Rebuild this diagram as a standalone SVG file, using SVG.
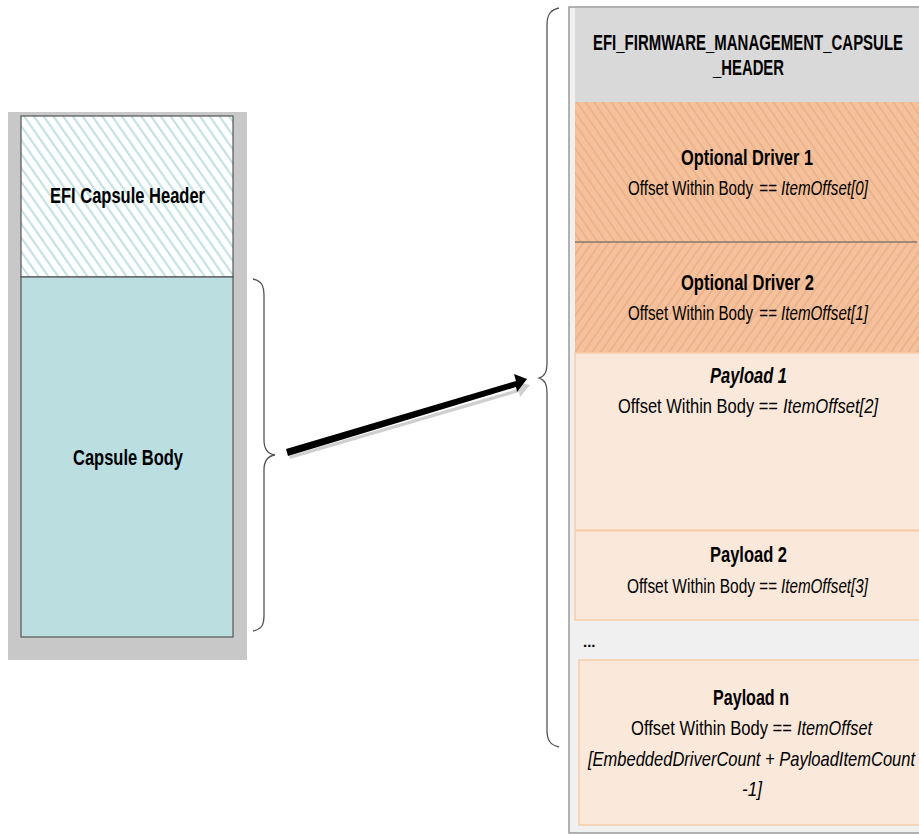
<svg xmlns="http://www.w3.org/2000/svg" width="919" height="834" viewBox="0 0 919 834">
<defs>
<pattern id="hatchTeal" patternUnits="userSpaceOnUse" width="8" height="8" patternTransform="rotate(-35)">
<rect width="8" height="8" fill="#ffffff"/>
<rect x="0" y="0" width="2.2" height="8" fill="#c4e2e5"/>
</pattern>
<pattern id="hatchOr1" patternUnits="userSpaceOnUse" width="7" height="7" patternTransform="rotate(-35)">
<rect width="7" height="7" fill="#f4c19c"/>
<rect x="0" y="0" width="2" height="7" fill="#ebb38c"/>
</pattern>
<pattern id="hatchOr2" patternUnits="userSpaceOnUse" width="7" height="7" patternTransform="rotate(35)">
<rect width="7" height="7" fill="#f4c19c"/>
<rect x="0" y="0" width="2" height="7" fill="#ebb38c"/>
</pattern>
</defs>
<style>
.t{font-family:"Liberation Sans",Arial,sans-serif;fill:#000}
.b{font-weight:bold;font-size:22px}
.s{font-size:21px}
.c{font-size:20px}
.i{font-style:italic}
.brace{fill:none;stroke:#555;stroke-width:1.3}
</style>

<g id="left-capsule">
<rect x="8" y="112" width="239" height="548" fill="#c8c8c8"/>
<rect x="21" y="116" width="212" height="161" fill="url(#hatchTeal)" stroke="#555" stroke-width="1.2"/>
<rect x="21" y="277" width="212" height="360" fill="#bbdfe1" stroke="#555" stroke-width="1.2"/>
</g>
<g id="efi-capsule-header">
<text class="t b" x="50" y="203" textLength="155" lengthAdjust="spacingAndGlyphs">EFI Capsule Header</text>
</g>
<g id="capsule-body">
<text class="t b" x="73" y="465" textLength="110" lengthAdjust="spacingAndGlyphs">Capsule Body</text>
</g>

<g id="right-container">
<rect x="569" y="7" width="352" height="826" fill="#f0f0f0" stroke="#9a9a9a" stroke-width="1.5"/>
</g>
<g id="fmp-header">
<rect x="575" y="8" width="346" height="94" fill="#d9d9d9"/>
<text class="t b" x="593" y="50" textLength="310" lengthAdjust="spacingAndGlyphs">EFI_FIRMWARE_MANAGEMENT_CAPSULE</text>
<text class="t b" x="713" y="75" textLength="71" lengthAdjust="spacingAndGlyphs">_HEADER</text>
</g>
<g id="optional-driver-1">
<rect x="575" y="102" width="346" height="140" fill="url(#hatchOr1)"/>
<text class="t b" x="681" y="165" textLength="132" lengthAdjust="spacingAndGlyphs">Optional Driver 1</text>
<text class="t c" x="628" y="195" textLength="125" lengthAdjust="spacingAndGlyphs">Offset Within Body</text>
<text class="t c i" x="759" y="195" textLength="109" lengthAdjust="spacingAndGlyphs">== ItemOffset[0]</text>
</g>
<g id="optional-driver-2">
<rect x="575" y="242" width="346" height="111" fill="url(#hatchOr2)"/>
<line x1="575" y1="242" x2="917" y2="242" stroke="#555" stroke-width="1.2"/>
<text class="t b" x="681" y="290" textLength="133" lengthAdjust="spacingAndGlyphs">Optional Driver 2</text>
<text class="t c" x="628" y="320" textLength="125" lengthAdjust="spacingAndGlyphs">Offset Within Body</text>
<text class="t c i" x="759" y="320" textLength="109" lengthAdjust="spacingAndGlyphs">== ItemOffset[1]</text>
</g>
<g id="payload-1">
<rect x="575" y="353" width="346" height="177" fill="#fae8da" stroke="#f6cda9" stroke-width="1.5"/>
<text class="t b i" x="710" y="383" textLength="77" lengthAdjust="spacingAndGlyphs">Payload 1</text>
<text class="t s" x="618" y="413" textLength="160" lengthAdjust="spacingAndGlyphs">Offset Within Body ==</text>
<text class="t s i" x="783" y="413" textLength="95" lengthAdjust="spacingAndGlyphs">ItemOffset[2]</text>
</g>
<g id="payload-2">
<rect x="575" y="531" width="346" height="89" fill="#fae8da" stroke="#f6cda9" stroke-width="1.5"/>
<text class="t b" x="710" y="562" textLength="77" lengthAdjust="spacingAndGlyphs">Payload 2</text>
<text class="t s" x="627" y="593" textLength="128" lengthAdjust="spacingAndGlyphs">Offset Within Body</text>
<text class="t s i" x="759" y="593" textLength="109" lengthAdjust="spacingAndGlyphs">== ItemOffset[3]</text>
</g>
<g id="ellipsis">
<text class="t" x="583" y="647" font-weight="bold" font-size="15">...</text>
</g>
<g id="payload-n">
<rect x="579" y="660" width="342" height="165" fill="#fae8da" stroke="#f6cda9" stroke-width="1.5"/>
<text class="t b" x="713" y="705" textLength="76" lengthAdjust="spacingAndGlyphs">Payload n</text>
<text class="t s" x="631" y="735" textLength="161" lengthAdjust="spacingAndGlyphs">Offset Within Body ==</text>
<text class="t s i" x="797" y="735" textLength="75" lengthAdjust="spacingAndGlyphs">ItemOffset</text>
<text class="t s i" x="588" y="766" textLength="327" lengthAdjust="spacingAndGlyphs">[EmbeddedDriverCount + PayloadItemCount</text>
<text class="t s i" x="742" y="796" textLength="20" lengthAdjust="spacingAndGlyphs">-1]</text>
</g>

<g id="connectors">
<path class="brace" d="M253,279 C262,281 264,286 264,296 L264,440 C264,450 268,454 275,455 C268,456 264,460 264,470 L264,615 C264,625 262,629 253,631"/>
<path class="brace" d="M559,8 C550,10 547,15 547,25 L547,362 C547,372 545,376 539,378 C545,380 547,384 547,394 L547,730 C547,740 550,745 559,747"/>
<g id="arrow">
<path d="M289,456 L518,389 L516,382 L530,385 L520,397 L519,392 L290,459 Z" fill="#cfcfcf"/>
<path d="M286,449 L516,381 L514,374 L527,379 L517,392 L516,387 L288,456 Z" fill="#000"/>
</g>
</g>
</svg>
